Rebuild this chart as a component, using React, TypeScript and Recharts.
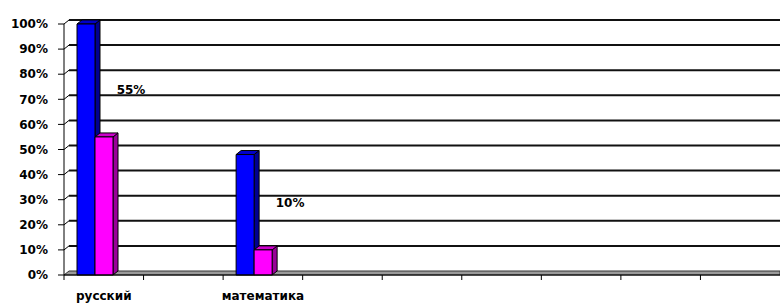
import React from 'react'
import { BarChart, Bar, XAxis, YAxis, CartesianGrid, LabelList } from 'recharts'

const categories = ['русский', '', 'математика', '', '', '', '', '', '']
const series1 = [1.0, null, 0.48, null, null, null, null, null, null]
const series2 = [0.55, null, 0.1, null, null, null, null, null, null]
const yTicks = [0, 0.1, 0.2, 0.3, 0.4, 0.5, 0.6, 0.7, 0.8, 0.9, 1]

const data = categories.map((name, i) => ({ name, s1: series1[i], s2: series2[i] }))

const W = 780
const H = 304
const AXIS_W = 64
const BAND = (W - AXIS_W) / categories.length
const DX = 5
const DY = 4
const SHIFT = -9
const FONT = '"DejaVu Sans", sans-serif'

const pct = (v: number) => `${Math.round(v * 100)}%`

function Box(props: any) {
  const { x, y, width, height, fill, top, side } = props
  if (!height || height <= 0) return null
  const x0 = x + SHIFT
  const x1 = x0 + width
  const y1 = y + height
  return (
    <g stroke="#000" strokeWidth={1} strokeLinejoin="round">
      <polygon points={`${x1},${y} ${x1 + DX},${y - DY} ${x1 + DX},${y1 - DY} ${x1},${y1}`} fill={side} />
      <polygon points={`${x0},${y} ${x0 + DX},${y - DY} ${x1 + DX},${y - DY} ${x1},${y}`} fill={top} />
      <rect x={x0} y={y} width={width} height={height} fill={fill} />
    </g>
  )
}

function GridLine(props: any) {
  const { x1, x2, y1, index } = props
  const bottom = props.y + props.height
  if (Math.abs(y1 - bottom) < 1) {
    return (
      <g key={`g-${index}`}>
        <polygon
          points={`${x1},${y1} ${x1 + DX},${y1 - DY} ${x2},${y1 - DY} ${x2},${y1}`}
          fill="#9a9a9a"
          stroke="#333"
          strokeWidth={1}
        />
      </g>
    )
  }
  return (
    <g key={`g-${index}`}>
      <line x1={x1} y1={y1} x2={x1 + DX} y2={y1 - DY} stroke="#000" strokeWidth={1} />
      <line x1={x1 + DX} y1={y1 - DY} x2={x2} y2={y1 - DY} stroke="#111" strokeWidth={2} />
    </g>
  )
}

function CategoryTick({ x, y, payload }: any) {
  const bx = x - BAND / 2
  return (
    <g>
      <line x1={bx} y1={y} x2={bx} y2={y + 5} stroke="#000" strokeWidth={1} />
      <text x={x} y={y + 25} textAnchor="middle" fontFamily={FONT} fontWeight="bold" fontSize={12} fill="#000">
        {payload.value}
      </text>
    </g>
  )
}

function ValueLabel({ x, y, width, value }: any) {
  if (value == null) return null
  return (
    <text
      x={x + width / 2 + SHIFT + 27}
      y={y - 47}
      textAnchor="middle"
      dominantBaseline="central"
      fontFamily={FONT}
      fontWeight="bold"
      fontSize={12}
      fill="#000"
    >
      {pct(value)}
    </text>
  )
}

export default function App() {
  return (
    <div style={{ position: 'absolute', left: 0, top: 0, width: W, height: H, background: '#fff' }}>
      <BarChart
        width={W}
        height={H}
        data={data}
        margin={{ top: 24, right: 0, bottom: 0, left: 0 }}
        barGap={0}
        barSize={18}
      >
        <CartesianGrid vertical={false} horizontal={GridLine} />
        <XAxis
          dataKey="name"
          interval={0}
          height={29}
          tickLine={false}
          tickSize={0}
          tickMargin={0}
          axisLine={{ stroke: '#000' }}
          tick={CategoryTick}
        />
        <YAxis
          width={AXIS_W}
          domain={[0, 1]}
          ticks={yTicks}
          tickFormatter={pct}
          tickSize={6}
          tickMargin={10}
          axisLine={{ stroke: '#000' }}
          tickLine={{ stroke: '#000' }}
          tick={{ fontFamily: FONT, fontWeight: 'bold', fontSize: 12, fill: '#000' }}
        />
        <Bar
          dataKey="s1"
          fill="#0000ff"
          isAnimationActive={false}
          shape={(p: any) => <Box {...p} top="#0000c8" side="#000090" />}
        />
        <Bar
          dataKey="s2"
          fill="#ff00ff"
          isAnimationActive={false}
          shape={(p: any) => <Box {...p} top="#cc00cc" side="#990099" />}
        >
          <LabelList dataKey="s2" content={ValueLabel} />
        </Bar>
      </BarChart>
    </div>
  )
}
